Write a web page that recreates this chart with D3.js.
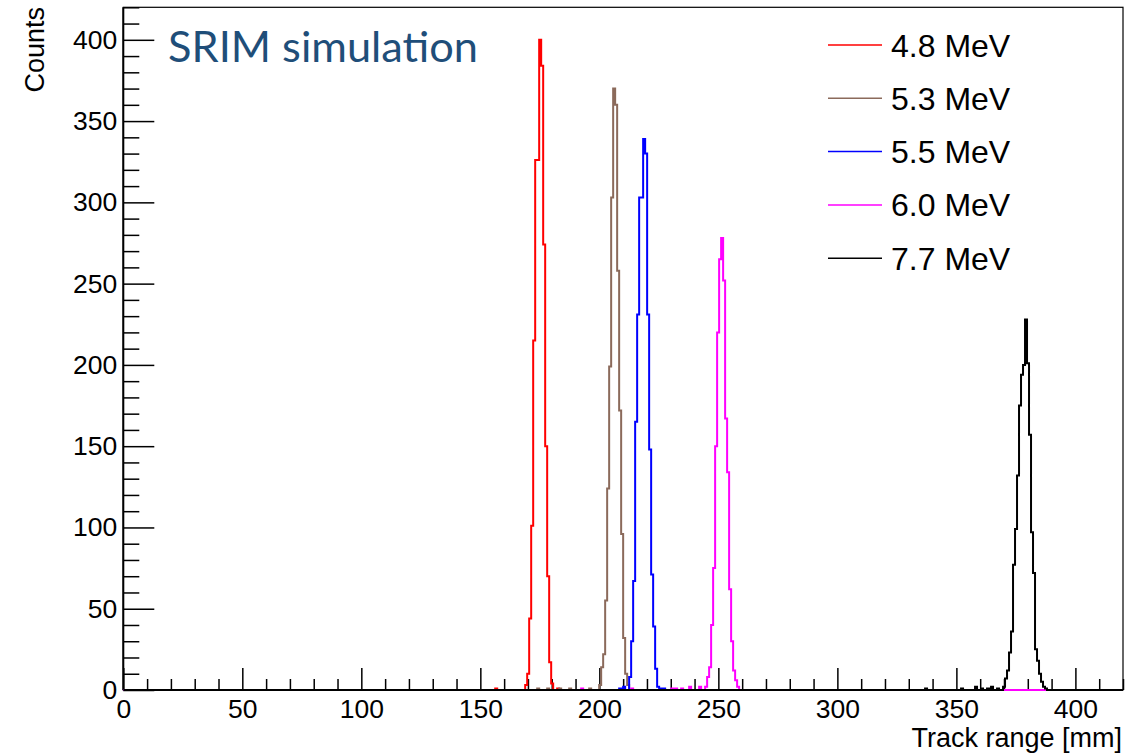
<!DOCTYPE html>
<html>
<head>
<meta charset="utf-8">
<script src="https://cdn.jsdelivr.net/npm/d3@7"></script>
<style>
  body { margin: 0; background: #fff; }
  svg { display: block; }
</style>
</head>
<body>
<script>
// histograms of track range, SRIM simulation (500 bins from 0 to 420 mm)
const WIDTH = 1145;
const HEIGHT = 753;

const xRange = [0, 420];
const yRange = [0, 420];
const nBins = 500;

const energies = ["4.8 MeV", "5.3 MeV", "5.5 MeV", "6.0 MeV", "7.7 MeV"];
const colors   = ["#ff0000", "#8b6a5b", "#0000ff", "#ff00ff", "#000000"];

// first bin (mm) of each peak, then counts bin after bin
const peakStart = [169.2, 199.6, 212.1, 244.8, 369.6];
const counts48 = [3, 10, 44, 101, 215, 326, 326, 400, 384, 274, 150, 70, 17, 4];
const counts53 = [3, 14, 22, 55, 124, 199, 303, 370, 360, 258, 172, 96, 32, 10, 3];
const counts55 = [8, 30, 67, 165, 231, 303, 303, 339, 330, 231, 148, 71, 39, 13, 2];
const counts60 = [2, 8, 14, 40, 75, 150, 220, 265, 278, 252, 167, 134, 62, 30, 12, 6, 2];
const counts77 = [2, 7, 12, 23, 36, 77, 99, 132, 175, 194, 200, 228, 201, 157, 97, 72, 25, 18, 10, 5, 2, 1];

// isolated entries near the baseline: [mm, counts]
const stray48 = [[156.6, 1], [182.5, 1]];
const stray53 = [[173.9, 1], [178.7, 1], [183.5, 1], [187.7, 1], [196.5, 1]];
const stray55 = [[208.8, 1], [210.4, 2], [225.5, 1], [227.0, 1]];
const stray60 = [[193.0, 1], [213.4, 1], [230.5, 1], [232.5, 1], [234.5, 1], [238.5, 2], [242.0, 2], [358.0, 1]];
const stray77 = [[337.0, 1], [352.0, 1], [358.0, 2], [360.5, 1], [363.0, 1], [365.0, 2], [367.5, 1]];

const xMajor = [0, 50, 100, 150, 200, 250, 300, 350, 400];
const yMajor = [0, 50, 100, 150, 200, 250, 300, 350, 400];

const countsAll = [counts48, counts53, counts55, counts60, counts77];
const strayAll  = [stray48, stray53, stray55, stray60, stray77];

const binW = (xRange[1] - xRange[0]) / nBins;

function fillBins(start, counts, strays) {
    let arr = new Array(nBins).fill(0);
    let i0 = Math.round(start / binW);
    counts.forEach((c, k) => { arr[i0 + k] += c; });
    strays.forEach(s => { arr[Math.floor(s[0] / binW)] += s[1]; });
    return arr;
}

const hists = energies.map((e, i) => fillBins(peakStart[i], countsAll[i], strayAll[i]));

const plot = { left: 123.3, right: 1123, top: 7.3, bottom: 690 };

let x = d3.scaleLinear().domain(xRange).range([plot.left, plot.right]);
let y = d3.scaleLinear().domain(yRange).range([plot.bottom, plot.top]);

let svg = d3.select('body').append('svg')
    .attr('width', WIDTH)
    .attr('height', HEIGHT)
    .style('font-family', '"Liberation Sans", Arial, sans-serif');

// frame
svg.append('rect')
    .attr('x', plot.left).attr('y', plot.top)
    .attr('width', plot.right - plot.left)
    .attr('height', plot.bottom - plot.top)
    .attr('fill', 'none')
    .attr('stroke', '#000')
    .attr('stroke-width', 1.2);

// minor ticks every 10
let xMinor = d3.range(0, 421, 10).filter(v => v % 50 != 0);
let yMinor = d3.range(0, 421, 10).filter(v => v % 50 != 0);

function styleAxis(g) {
    g.select('.domain').remove();
    g.selectAll('line').attr('stroke', '#000').attr('stroke-width', 1.5);
    g.selectAll('text').attr('fill', '#000').style('font-size', '26.5px')
        .style('font-family', '"Liberation Sans", Arial, sans-serif');
}

svg.append('g')
    .attr('transform', `translate(0,${plot.bottom})`)
    .call(d3.axisBottom(x).tickValues(xMinor).tickSize(-11).tickFormat(''))
    .call(styleAxis);
svg.append('g')
    .attr('transform', `translate(0,${plot.bottom})`)
    .call(d3.axisBottom(x).tickValues(xMajor).tickSize(-22).tickPadding(9).tickFormat(d3.format('d')))
    .call(styleAxis);

svg.append('g')
    .attr('transform', `translate(${plot.left},0)`)
    .call(d3.axisLeft(y).tickValues(yMinor).tickSize(-16).tickFormat(''))
    .call(styleAxis);
svg.append('g')
    .attr('transform', `translate(${plot.left},0)`)
    .call(d3.axisLeft(y).tickValues(yMajor).tickSize(-31).tickPadding(6).tickFormat(d3.format('d')))
    .call(styleAxis);

// axis lines
svg.append('line')
    .attr('x1', plot.left).attr('x2', plot.right)
    .attr('y1', plot.bottom).attr('y2', plot.bottom)
    .attr('stroke', '#000').attr('stroke-width', 2);
svg.append('line')
    .attr('x1', plot.left).attr('x2', plot.left)
    .attr('y1', plot.top).attr('y2', plot.bottom)
    .attr('stroke', '#000').attr('stroke-width', 2);

// histograms, drawn as step outlines
let line = d3.line()
    .x(d => x(d[0]))
    .y(d => y(d[1]))
    .curve(d3.curveStepAfter);

hists.forEach((h, i) => {
    let pts = h.map((c, k) => [xRange[0] + k * binW, c]);
    pts.push([xRange[1], 0]);
    svg.append('path')
        .datum(pts)
        .attr('d', line)
        .attr('fill', 'none')
        .attr('stroke', colors[i])
        .attr('stroke-width', 2);
});

// axis titles
svg.append('text')
    .attr('transform', 'translate(44,7) rotate(-90)')
    .attr('text-anchor', 'end')
    .style('font-size', '27px')
    .text('Counts');

svg.append('text')
    .attr('x', 1122).attr('y', 747)
    .attr('text-anchor', 'end')
    .style('font-size', '27px')
    .text('Track range [mm]');

// legend
let legend = svg.append('g');
energies.forEach((e, i) => {
    let ly = 45 + i * 53.3;
    legend.append('line')
        .attr('x1', 828).attr('x2', 882)
        .attr('y1', ly).attr('y2', ly)
        .attr('stroke', colors[i])
        .attr('stroke-width', 1.5);
    legend.append('text')
        .attr('x', 891).attr('y', ly + 11.5)
        .style('font-size', '32px')
        .text(e);
});

// annotation
svg.append('text')
    .attr('x', 168).attr('y', 62)
    .attr('fill', '#1f4e79')
    .attr('textLength', 310)
    .attr('lengthAdjust', 'spacingAndGlyphs')
    .style('font-family', 'Lato, "Open Sans", sans-serif')
    .style('font-size', '43px')
    .text('SRIM simulation');
</script>
</body>
</html>
